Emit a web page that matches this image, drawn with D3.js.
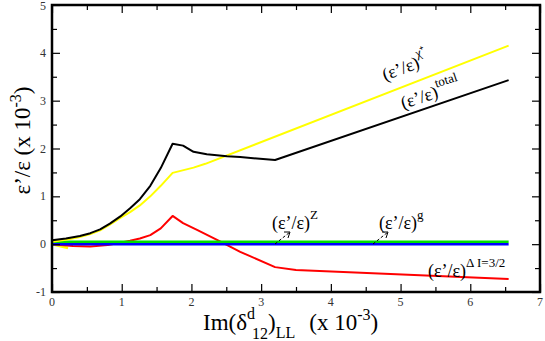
<!DOCTYPE html>
<html>
<head>
<meta charset="utf-8">
<script src="https://cdn.jsdelivr.net/npm/d3@7"></script>
<style>
  body { margin: 0; background: #fff; }
  svg text { font-family: "Liberation Serif", "Times New Roman", serif; }
</style>
</head>
<body>
<svg id="chart" width="545" height="341"></svg>
<script>
// chart values
const xTicks = [0, 1, 2, 3, 4, 5, 6, 7];
const yTicks = [-1, 0, 1, 2, 3, 4, 5];

const totalX = [0, 0.2, 0.4, 0.55, 0.69, 0.83, 0.98, 1.12, 1.26, 1.41, 1.56, 1.73, 1.88, 2.03, 2.22, 2.51, 2.7, 3.2, 6.55];
const totalY = [0.08, 0.12, 0.17, 0.23, 0.31, 0.43, 0.58, 0.75, 0.94, 1.22, 1.59, 2.1, 2.06, 1.93, 1.88, 1.84, 1.82, 1.76, 3.43];

const chiX = [0, 0.2, 0.4, 0.55, 0.69, 0.83, 0.98, 1.12, 1.26, 1.41, 1.56, 1.73, 2.03, 2.2, 6.55];
const chiY = [0.05, 0.09, 0.15, 0.21, 0.29, 0.41, 0.55, 0.67, 0.81, 1.0, 1.22, 1.49, 1.6, 1.68, 4.15];

const dI32X = [0, 0.3, 0.55, 0.8, 0.98, 1.12, 1.26, 1.41, 1.56, 1.73, 1.88, 2.08, 2.41, 2.7, 3.2, 3.5, 6.55];
const dI32Y = [0, -0.04, -0.05, -0.02, 0.03, 0.07, 0.12, 0.19, 0.33, 0.59, 0.44, 0.3, 0.06, -0.16, -0.48, -0.54, -0.73];

const zX = [0, 6.55];
const zY = [0.05, 0.05];
const gX = [0, 6.55];
const gY = [0.0, 0.0];

// short stubs near the origin
const stubTotalX = [0, 0.23];
const stubTotalY = [0.07, 0.0];
const stubChiX = [0, 0.23];
const stubChiY = [0.0, -0.08];

const zip = (xs, ys) => xs.map((x, i) => ({ x: x, y: ys[i] }));

const svg = d3.select("#chart");
const margin = { top: 5, right: 5, bottom: 49, left: 52 };
const W = 545, H = 341;

const x = d3.scaleLinear().domain([0, 7]).range([margin.left, W - margin.right]);
const y = d3.scaleLinear().domain([-1, 5]).range([H - margin.bottom, margin.top]);

const line = d3.line().x(d => x(d.x)).y(d => y(d.y));

const series = [
  { data: zip(stubChiX, stubChiY), color: "#ffff00", w: 2.5 },
  { data: zip(stubTotalX, stubTotalY), color: "#000", w: 2.5 },
  { data: zip(dI32X, dI32Y), color: "#ff0000", w: 2 },
  { data: zip(zX, zY), color: "#00dd00", w: 2.5 },
  { data: zip(gX, gY), color: "#0000ff", w: 2.5 },
  { data: zip(chiX, chiY), color: "#ffff00", w: 2 },
  { data: zip(totalX, totalY), color: "#000", w: 2 }
];

svg.selectAll("path.series")
  .data(series)
  .enter().append("path")
  .attr("class", "series")
  .attr("fill", "none")
  .attr("stroke", d => d.color)
  .attr("stroke-width", d => d.w)
  .attr("stroke-linejoin", "round")
  .attr("d", d => line(d.data));

// axes: ticks inward on all four sides
const minorX = d3.range(0.5, 7, 1);
const minorY = d3.range(-0.5, 5, 1);
const axisStyle = g => g.call(s => s.select(".domain").remove())
  .selectAll("line").attr("stroke", "#000").attr("stroke-width", 1.2);

svg.append("g").attr("transform", `translate(0,${y(-1)})`)
  .call(d3.axisTop(x).tickValues(xTicks).tickSize(8).tickFormat(""))
  .call(axisStyle);
svg.append("g").attr("transform", `translate(0,${y(-1)})`)
  .call(d3.axisTop(x).tickValues(minorX).tickSize(5).tickFormat(""))
  .call(axisStyle);
svg.append("g").attr("transform", `translate(0,${y(5)})`)
  .call(d3.axisBottom(x).tickValues(xTicks).tickSize(8).tickFormat(""))
  .call(axisStyle);
svg.append("g").attr("transform", `translate(0,${y(5)})`)
  .call(d3.axisBottom(x).tickValues(minorX).tickSize(5).tickFormat(""))
  .call(axisStyle);
svg.append("g").attr("transform", `translate(${x(0)},0)`)
  .call(d3.axisRight(y).tickValues(yTicks).tickSize(8).tickFormat(""))
  .call(axisStyle);
svg.append("g").attr("transform", `translate(${x(0)},0)`)
  .call(d3.axisRight(y).tickValues(minorY).tickSize(5).tickFormat(""))
  .call(axisStyle);
svg.append("g").attr("transform", `translate(${x(7)},0)`)
  .call(d3.axisLeft(y).tickValues(yTicks).tickSize(8).tickFormat(""))
  .call(axisStyle);
svg.append("g").attr("transform", `translate(${x(7)},0)`)
  .call(d3.axisLeft(y).tickValues(minorY).tickSize(5).tickFormat(""))
  .call(axisStyle);

svg.append("rect")
  .attr("x", x(0)).attr("y", y(5))
  .attr("width", x(7) - x(0)).attr("height", y(-1) - y(5))
  .attr("fill", "none").attr("stroke", "#000").attr("stroke-width", 2.5);

// tick labels
svg.selectAll("text.xt").data(xTicks).enter().append("text")
  .attr("x", d => x(d)).attr("y", y(-1) + 14)
  .attr("text-anchor", "middle").attr("font-size", 12).attr("fill", "#333")
  .text(d => d);
svg.selectAll("text.yt").data(yTicks).enter().append("text")
  .attr("x", x(0) - 6).attr("y", d => Math.max(y(d) + 4, 10))
  .attr("text-anchor", "end").attr("font-size", 12).attr("fill", "#333")
  .text(d => d);

// axis titles
const yt = svg.append("text")
  .attr("transform", `translate(30,${(y(-1) + y(5)) / 2 - 8}) rotate(-90)`)
  .attr("text-anchor", "middle").attr("font-size", 23);
yt.append("tspan").text("ε’/ε (x 10");
yt.append("tspan").attr("dy", -9).attr("font-size", 16).text("-3");
yt.append("tspan").attr("dy", 9).text(")");

const xt = svg.append("text")
  .attr("x", 203).attr("y", 330)
  .attr("font-size", 23);
xt.append("tspan").text("Im(δ");
xt.append("tspan").attr("dy", -11).attr("font-size", 16).text("d");
xt.append("tspan").attr("dx", -3).attr("dy", 20).attr("font-size", 16).text("12");
xt.append("tspan").attr("dy", -9).text(")");
xt.append("tspan").attr("dy", 8).attr("font-size", 16).text("LL");
xt.append("tspan").attr("dy", -8).attr("dx", 14).text("(x 10");
xt.append("tspan").attr("dy", -10).attr("font-size", 16).text("-3");
xt.append("tspan").attr("dy", 10).text(")");

// curve labels
function label(px, py, angle, sup, supSize) {
  const t = svg.append("text")
    .attr("transform", `translate(${px},${py}) rotate(${angle})`)
    .attr("font-size", 18);
  t.append("tspan").text("(ε’/ε)");
  t.append("tspan").attr("dy", -10).attr("font-size", supSize).text(sup);
  return t;
}
label(385, 81, -21, "χ⁺", 13);
label(403, 109, -18, "total", 13);
label(272, 229, 0, "Z", 13);
label(379, 229, 0, "g", 13);
label(428, 277, 0, "Δ I=3/2", 13);

// dashed pointers
const pointers = [[275, 244, 290, 232], [373, 244, 388, 232]];
pointers.forEach(p => {
  svg.append("line")
    .attr("x1", p[0]).attr("y1", p[1]).attr("x2", p[2]).attr("y2", p[3])
    .attr("stroke", "#000").attr("stroke-width", 1).attr("stroke-dasharray", "3 2");
  svg.append("path")
    .attr("d", `M${p[2] - 6},${p[3]} L${p[2]},${p[3]} L${p[2] - 2},${p[3] + 6}`)
    .attr("fill", "none").attr("stroke", "#000").attr("stroke-width", 1);
});
</script>
</body>
</html>
